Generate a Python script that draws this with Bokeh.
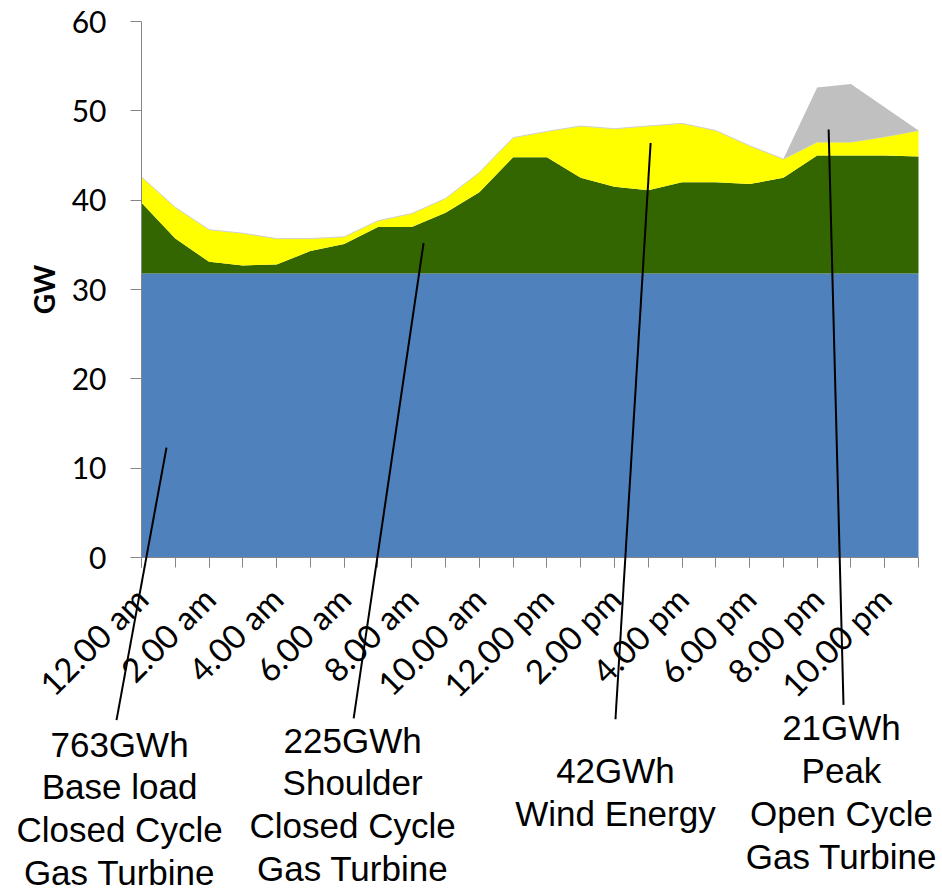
from math import pi
from bokeh.plotting import figure
from bokeh.models import ColumnDataSource, FixedTicker, Label, Arrow
from bokeh.transform import stack
from bokeh.embed import file_html
from bokeh.resources import INLINE

# ---- data (GW per hour, stacked layers) ----
hours = list(range(24))
tick_labels = ["12.00 am", "2.00 am", "4.00 am", "6.00 am", "8.00 am", "10.00 am",
               "12.00 pm", "2.00 pm", "4.00 pm", "6.00 pm", "8.00 pm", "10.00 pm"]
y_ticks = [0, 10, 20, 30, 40, 50, 60]
base_load = [31.8] * 24
shoulder = [7.9, 3.9, 1.3, 0.9, 1.0, 2.5, 3.3, 5.2, 5.2, 6.8, 9.1, 13.0,
            13.0, 10.7, 9.7, 9.3, 10.2, 10.2, 10.0, 10.7, 13.2, 13.2, 13.2, 13.1]
wind = [2.9, 3.5, 3.6, 3.6, 2.9, 1.4, 0.8, 0.7, 1.5, 1.6, 2.2, 2.2,
        2.9, 5.8, 6.5, 7.2, 6.6, 5.8, 4.3, 2.1, 1.5, 1.5, 2.1, 2.9]
peak = [0, 0, 0, 0, 0, 0, 0, 0, 0, 0, 0, 0,
        0, 0, 0, 0, 0, 0, 0, 0, 6.1, 6.5, 3.3, 0]

annotations = [
    "763GWh\nBase load\nClosed Cycle\nGas Turbine",
    "225GWh\nShoulder\nClosed Cycle\nGas Turbine",
    "42GWh\nWind Energy",
    "21GWh\nPeak\nOpen Cycle\nGas Turbine",
]

src = ColumnDataSource(dict(x=hours, base=base_load, shoulder=shoulder, wind=wind, peak=peak))

W, H = 942, 896
# frame covers whole canvas; axes are placed at fixed data locations
XL, XR, YB, YT = 141, 918, 557, 21
sx = (XR - XL) / 23.0
sy = (YB - YT) / 60.0
p = figure(width=W, height=H, output_backend="svg", toolbar_location=None,
           x_range=(-XL / sx, 23 + (W - XR) / sx), y_range=(-(H - YB) / sy, 60 + YT / sy),
           min_border_left=0, min_border_right=0, min_border_top=0, min_border_bottom=0)
p.outline_line_color = None
p.xgrid.visible = False
p.ygrid.visible = False
p.background_fill_color = "white"

p.varea_stack(stackers=["base", "shoulder", "wind"], x="x", source=src,
              color=["#4F81BD", "#336600", "#FFFF00"])
p.line(x="x", y=stack("base", "shoulder", "wind"), source=src, line_color="#D0D0D0", line_width=1)
p.varea(x="x", y1=stack("base", "shoulder", "wind"), y2=stack("base", "shoulder", "wind", "peak"),
        source=src, fill_color="#C0C0C0")

AX = "#868686"
# y axis
yax = p.yaxis[0]
yax.fixed_location = 0
yax.bounds = (0, 60)
yax.ticker = FixedTicker(ticks=y_ticks)
yax.minor_tick_line_color = None
yax.major_tick_out = 11
yax.major_tick_in = 0
yax.axis_line_color = AX
yax.major_tick_line_color = AX
yax.major_label_text_font = "Lato"
yax.major_label_text_font_size = "30px"
yax.major_label_text_color = "black"
yax.major_label_standoff = 24
yax.axis_label = "GW"
yax.axis_label_text_font = "Lato"
yax.axis_label_text_font_style = "bold"
yax.axis_label_text_font_size = "28px"
yax.axis_label_text_color = "black"
yax.axis_label_standoff = 8

# x axis
xax = p.xaxis[0]
xax.fixed_location = 0
xax.bounds = (0, 23)
xax.ticker = FixedTicker(ticks=hours[::2], minor_ticks=hours)
xax.major_label_overrides = {h: t for h, t in zip(hours[::2], tick_labels)}
xax.major_tick_out = 10
xax.major_tick_in = 0
xax.minor_tick_out = 10
xax.minor_tick_in = 0
xax.axis_line_color = AX
xax.major_tick_line_color = AX
xax.minor_tick_line_color = AX
xax.major_label_orientation = pi / 4
xax.major_label_text_font = "Lato"
xax.major_label_text_font_size = "33px"
xax.major_label_text_color = "black"
xax.major_label_standoff = 25

# leader lines (data coordinates)
leaders = [((0.74, 12.3), (-0.74, -18.2)),
           ((8.35, 35.2), (6.28, -18.0)),
           ((15.07, 46.4), (14.03, -18.1)),
           ((20.34, 47.9), (20.78, -16.5))]
for (xs, ys), (xe, ye) in leaders:
    p.add_layout(Arrow(end=None, x_start=xs, y_start=ys, x_end=xe, y_end=ye,
                       line_color="black", line_width=2))

label_pos = [(-0.65, -18.7), (6.25, -18.25), (14.03, -21.7), (20.72, -16.9)]
for txt, (lx, ly) in zip(annotations, label_pos):
    p.add_layout(Label(x=lx, y=ly, text=txt, text_align="center", text_baseline="top",
                       text_font="Liberation Sans", text_font_size="35px",
                       text_line_height=1.1, text_color="black"))

open("out.html", "w").write(file_html(p, INLINE))
